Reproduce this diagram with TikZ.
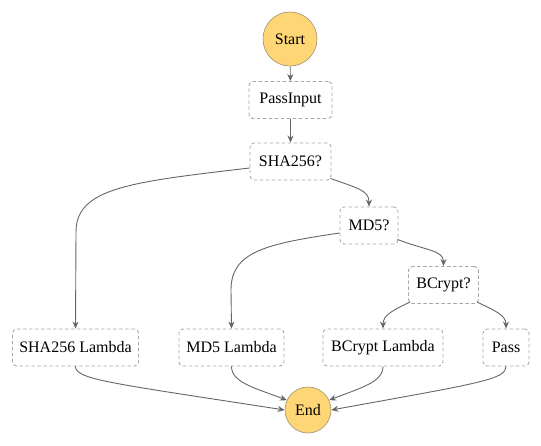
\documentclass[tikz,border=0pt]{standalone}
\usepackage{fontspec}
\setmainfont{Liberation Serif}
\usetikzlibrary{arrows.meta,calc}
\definecolor{boxgray}{HTML}{A8A8A8}
\definecolor{edgegray}{HTML}{666666}
\definecolor{circgray}{HTML}{A09070}
\definecolor{termyellow}{HTML}{FFD676}
\begin{document}
\begin{tikzpicture}[x=1pt,y=-1pt,
  box/.style={draw=boxgray,line width=0.9pt,dash pattern=on 3.5pt off 2.5pt,rounded corners=4pt,
    minimum height=37pt,inner xsep=0pt,inner ysep=0pt,fill=white,font=\fontsize{16}{18}\selectfont},
  term/.style={circle,draw=circgray,line width=0.6pt,fill=termyellow,inner sep=0pt,font=\fontsize{16}{18}\selectfont},
  edge/.style={draw=edgegray,line width=0.9pt,-{Stealth[length=7pt,width=6pt]}}]
\useasboundingbox (0,0) rectangle (541,445);
\node[term,minimum size=54pt] (start) at (290,39) {Start};
\node[box,minimum width=83pt] (pin) at (290.5,100) {PassInput};
\node[box,minimum width=81pt] (sha) at (290.5,161.5) {SHA256?};
\node[box,minimum width=58pt] (md5) at (369,225.5) {MD5?};
\node[box,minimum width=70pt] (bc) at (443.5,285) {BCrypt?};
\node[box,minimum width=126pt] (shal) at (75.5,347.5) {SHA256 Lambda};
\node[box,minimum width=105pt] (md5l) at (231.5,347.5) {MD5 Lambda};
\node[box,minimum width=120pt] (bcl) at (383,347.5) {BCrypt Lambda};
\node[box,minimum width=46pt] (pass) at (506,347.5) {Pass};
\node[term,minimum size=46pt] (end) at (308,410) {End};

\draw[edge] (start) -- (pin);
\draw[edge] (pin) -- (sha);
\draw[edge] ($(sha.south east)+(-1,-2)$) .. controls +(28,10) and +(0,-16) .. (md5.north);
\draw[edge] ($(sha.west)+(0,6.5)$) .. controls (130,182) and (76,188) .. (76,232) -- (shal.north);
\draw[edge] ($(md5.west)+(0,7.5)$) .. controls (265,244) and (231,252) .. (231,290) -- (md5l.north);
\draw[edge] ($(md5.south east)+(-1,-5)$) .. controls +(28,11) and +(0,-16) .. (bc.north);
\draw[edge] ($(bc.south west)+(2,-2)$) .. controls +(-16,8) and +(0,-14) .. (bcl.north);
\draw[edge] ($(bc.south east)+(-2,-2)$) .. controls +(16,8) and +(0,-14) .. (pass.north);
\draw[edge] (shal.south) .. controls +(0,13) and (110,383) .. (end.west);
\draw[edge] (md5l.south) .. controls +(0,16) and (255,388) .. (end.155);
\draw[edge] (bcl.south) .. controls +(0,16) and (360,388) .. (end.25);
\draw[edge] (pass.south) .. controls +(0,13) and (480,383) .. (end.east);
\end{tikzpicture}
\end{document}
